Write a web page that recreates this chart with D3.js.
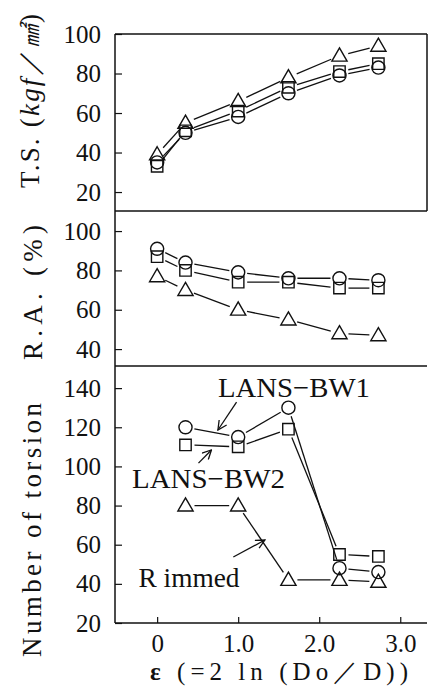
<!DOCTYPE html>
<html>
<head>
<meta charset="utf-8">
<script src="https://cdn.jsdelivr.net/npm/d3@7"></script>
<style>
  body { margin: 0; background: #fff; }
  svg { display: block; }
</style>
</head>
<body>
<div id="container"></div>
<script>
// strain values (x) for each measured point
const eps = [0, 0.35, 1.0, 1.62, 2.25, 2.73];
const epsTorsion = [0.35, 1.0, 1.62, 2.25, 2.73];

// tensile strength, kgf/mm2
const tsCircle = [35, 50, 58, 70, 79, 83];
const tsSquare = [33, 51, 61, 73, 81, 85];
const tsTriangle = [39, 55, 66, 78, 89, 94];

// reduction of area, %
const raCircle = [91, 84, 79, 76, 76, 75];
const raSquare = [87, 80, 74, 74, 71, 71];
const raTriangle = [77, 70, 60, 55, 48, 47];

// number of torsion
const torCircle = [120, 115, 130, 48, 46];
const torSquare = [111, 110, 119, 55, 54];
const torTriangle = [80, 80, 42, 42, 41];

const xTicks = [0, 1, 2, 3];
const xTickLabels = ['0', '1.0', '2.0', '3.0'];
const tsTicks = [20, 40, 60, 80, 100];
const raTicks = [40, 60, 80, 100];
const torTicks = [20, 40, 60, 80, 100, 120, 140];

const SERIF = '"Liberation Serif"';
const W = 428, H = 686;
const left = 115, right = 427;

const svg = d3.select('#container').append('svg')
  .attr('width', W).attr('height', H)
  .style('font-family', SERIF);

const defs = svg.append('defs');
defs.append('marker')
  .attr('id', 'arrow')
  .attr('viewBox', '-1 -5 11 10')
  .attr('refX', 9).attr('refY', 0)
  .attr('markerWidth', 11).attr('markerHeight', 10)
  .attr('markerUnits', 'userSpaceOnUse')
  .attr('orient', 'auto')
  .append('path')
  .attr('d', 'M0,-4.5L9,0L0,4.5')
  .attr('fill', 'none').attr('stroke', '#111').attr('stroke-width', 1.3);

const x = d3.scaleLinear().domain([-0.52, 3.33]).range([left, right]);

const panels = [
  { top: 34, bottom: 211, domain: [10.4, 100], ticks: tsTicks, xs: eps,
    series: [['circle', tsCircle], ['square', tsSquare], ['triangle', tsTriangle]] },
  { top: 211, bottom: 366, domain: [31.4, 110.2], ticks: raTicks, xs: eps,
    series: [['circle', raCircle], ['square', raSquare], ['triangle', raTriangle]] },
  { top: 366, bottom: 623, domain: [20, 151.3], ticks: torTicks, xs: epsTorsion,
    series: [['circle', torCircle], ['square', torSquare], ['triangle', torTriangle]] }
];

const symbols = {
  circle: d3.symbol().type(d3.symbolCircle).size(135),
  square: d3.symbol().type(d3.symbolSquare).size(130),
  triangle: d3.symbol().type(d3.symbolTriangle).size(100)
};

const gap = 9;

panels.forEach(p => {
  p.y = d3.scaleLinear().domain(p.domain).range([p.bottom, p.top]);
  const g = svg.append('g');

  // y axis with inward ticks
  const ax = g.append('g')
    .attr('transform', `translate(${left},0)`)
    .call(d3.axisLeft(p.y).tickValues(p.ticks).tickSize(-7).tickSizeOuter(0).tickPadding(14));
  ax.attr('font-family', null).attr('font-size', null);
  ax.select('.domain').remove();
  ax.selectAll('line').attr('stroke', '#111').attr('stroke-width', 1.2);
  ax.selectAll('text').attr('fill', '#111')
    .style('font-family', SERIF).style('font-size', '25px');

  p.series.forEach(([shape, vals]) => {
    const pts = vals.map((v, i) => [x(p.xs[i]), p.y(v)]);
    for (let i = 0; i < pts.length - 1; i++) {
      const [x1, y1] = pts[i], [x2, y2] = pts[i + 1];
      const len = Math.hypot(x2 - x1, y2 - y1);
      const ux = (x2 - x1) / len, uy = (y2 - y1) / len;
      g.append('line')
        .attr('x1', x1 + ux * gap).attr('y1', y1 + uy * gap)
        .attr('x2', x2 - ux * gap).attr('y2', y2 - uy * gap)
        .attr('stroke', '#111').attr('stroke-width', 1.3);
    }
    g.selectAll(null).data(pts).enter().append('path')
      .attr('d', symbols[shape])
      .attr('transform', d => `translate(${d[0]},${d[1] + (shape === 'triangle' ? 1 : 0)})`)
      .attr('fill', 'none').attr('stroke', '#111').attr('stroke-width', 1.4);
  });
});

// frame
const frame = svg.append('g').attr('stroke', '#111').attr('stroke-width', 1.5);
frame.append('line').attr('x1', left).attr('x2', right).attr('y1', 34).attr('y2', 34);
frame.append('line').attr('x1', left).attr('x2', right).attr('y1', 211).attr('y2', 211);
frame.append('line').attr('x1', left).attr('x2', right).attr('y1', 366).attr('y2', 366);
frame.append('line').attr('x1', right).attr('x2', right).attr('y1', 34).attr('y2', 211);
frame.append('line').attr('x1', left).attr('x2', left).attr('y1', 34).attr('y2', 623);

// x axis
const xa = svg.append('g')
  .attr('transform', 'translate(0,623)')
  .call(d3.axisBottom(x).tickValues(xTicks).tickFormat((d, i) => xTickLabels[i]).tickSize(-6).tickSizeOuter(0));
xa.attr('font-family', null).attr('font-size', null);
xa.select('.domain').attr('d', `M${left},0H${right}`).attr('stroke', '#111').attr('stroke-width', 1.5);
xa.selectAll('line').attr('stroke', '#111').attr('stroke-width', 1.2);
xa.selectAll('text').attr('y', 29).attr('dy', 0).attr('fill', '#111')
  .style('font-family', SERIF).style('font-size', '25px');

// annotations in the torsion panel (data units)
const yt = panels[2].y;
const arrows = [
  [[0.98, 132.9], [0.75, 118.6]],
  [[0.51, 101.7], [0.67, 108.4]],
  [[0.94, 53.7], [1.33, 62.4]]
];
arrows.forEach(([a, b]) => {
  svg.append('line')
    .attr('x1', x(a[0])).attr('y1', yt(a[1]))
    .attr('x2', x(b[0])).attr('y2', yt(b[1]))
    .attr('stroke', '#111').attr('stroke-width', 1.3)
    .attr('marker-end', 'url(#arrow)');
});
const labels = [
  ['LANS\u2212BW1', 0.75, 135.4, 152],
  ['LANS\u2212BW2', -0.31, 88.9, 153],
  ['R immed', -0.23, 38.4, 101]
];
labels.forEach(([t, lx, ly, len]) => {
  svg.append('text')
    .attr('x', x(lx)).attr('y', yt(ly))
    .attr('fill', '#111')
    .style('font-family', SERIF).style('font-size', '28px')
    .attr('textLength', len).attr('lengthAdjust', 'spacingAndGlyphs')
    .text(t);
});

// axis titles
function yTitle(cx, yStart, len) {
  return svg.append('text')
    .attr('transform', `translate(${cx},${yStart}) rotate(-90)`)
    .attr('fill', '#111')
    .style('font-family', SERIF).style('font-size', '27px')
    .attr('textLength', len).attr('lengthAdjust', 'spacing');
}
const t1 = yTitle(39, 188, 174);
t1.append('tspan').text('T.S. (');
t1.append('tspan').style('font-style', 'italic').text('kgf');
t1.append('tspan').text('\uFF0F');
t1.append('tspan').style('font-style', 'italic')
  .style('font-family', '"Noto Sans CJK JP"').style('font-size', '22px').text('\u339F');
t1.append('tspan').text(')');

yTitle(42, 360, 135).text('R.A. (%)');
yTitle(41, 657, 254).text('Number of torsion');

const xt = svg.append('text')
  .attr('x', 150).attr('y', 680)
  .attr('fill', '#111')
  .style('font-family', SERIF).style('font-size', '25px')
  .attr('textLength', 258).attr('lengthAdjust', 'spacing');
xt.append('tspan').style('font-weight', 'bold').text('\u03B5');
xt.append('tspan').text(' (=2 ln (Do\uFF0FD))');
</script>
</body>
</html>
